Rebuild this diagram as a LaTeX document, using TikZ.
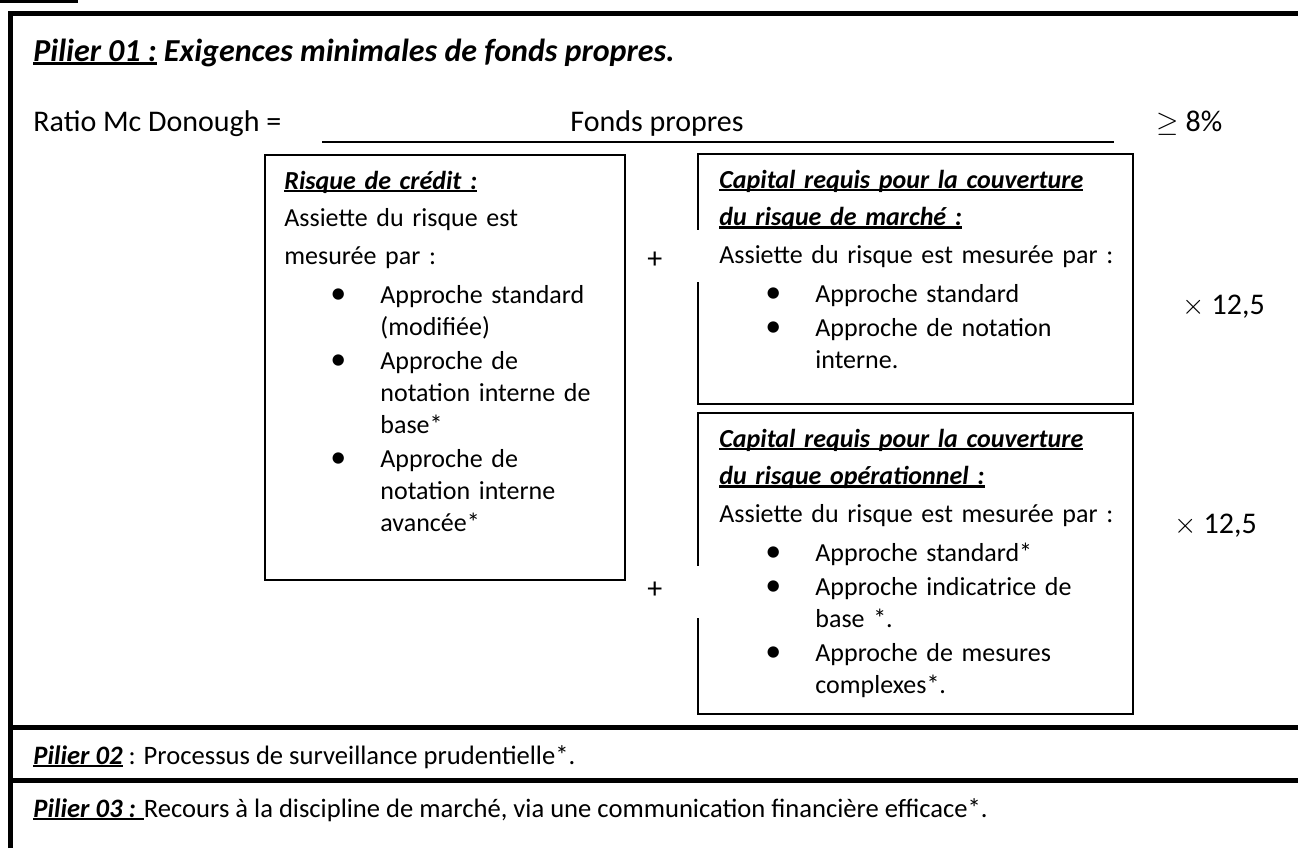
\documentclass[tikz,border=0pt]{standalone}
\usepackage{fontspec}
\setmainfont{Carlito}
\newcommand\souligne[1]{\leavevmode\setbox0=\hbox{#1}\rlap{\rule[-0.12em]{\wd0}{0.09em}}\box0\relax}
\newcommand\puce{\hspace*{27pt}\makebox[0pt]{\fontsize{16pt}{16pt}\selectfont\textbullet}\hspace*{21pt}}
\newcommand\suite{\hspace*{48pt}}

\begin{document}
\begin{tikzpicture}
[x=0.5pt,y=-0.5pt,
  frameDecorate/.style={line width=2.5pt},
  lineDecorate/.style={line width=0.8pt},
  boxDecorate/.style={draw,line width=0.85pt,anchor=north west,inner sep=0pt},
  gapDecorate/.style={fill=white,minimum width=4pt,minimum height=26pt,inner sep=0pt},
  textDecorate/.style={anchor=base west,inner sep=0pt,align=left,
    font=\fontsize{13pt}{16pt}\selectfont},
  pilierDecorate/.style={anchor=base west,inner sep=0pt,
    font=\fontsize{13.3pt}{16pt}\selectfont},
  ratioDecorate/.style={anchor=base west,inner sep=0pt,
    font=\fontsize{15pt}{16pt}\selectfont},
  titleDecorate/.style={anchor=base west,inner sep=0pt,
    font=\fontsize{16pt}{20pt}\selectfont\bfseries\itshape}]
\useasboundingbox (0,0) rectangle (1298,848);
%% frame and separators
\fill (0,0) rectangle (78,3);
\draw[frameDecorate] (10,848) -- (10,13.5) -- (1298,13.5);
\foreach \y in {727,780.5}
{
  \draw[frameDecorate] (10,\y) -- (1298,\y);
}
%% pilier 01
\node (titre) at (33,61) [titleDecorate] {\souligne{Pilier 01 :} Exigences minimales de fonds propres.};
\foreach \nodename/\x/\y/\texte in {
  ratio/33/131/{Ratio Mc Donough =}, fonds/570/131/{Fonds propres},
  seuil/1156/131/{$\geq$ 8\%}, plusA/647/268/{+}, plusB/647/598/{+},
  foisA/1182/314/{$\times$ 12,5}, foisB/1174/533/{$\times$ 12,5}}
{
  \node (\nodename) at (\x,\y) [ratioDecorate] {\texte};
}
\coordinate (fracL) at (322,142);
\coordinate (fracR) at (1114,142);
\draw[lineDecorate] (fracL) -- (fracR);
%% boxes
\node (credit) at (264,154) [boxDecorate,minimum width=180pt,minimum height=212.5pt] {};
\node (marche) at (697,153) [boxDecorate,minimum width=217.5pt,minimum height=125pt] {};
\node (operation) at (697,412) [boxDecorate,minimum width=217.5pt,minimum height=150.5pt] {};
\node (gapA) at (697,256) [gapDecorate] {};
\node (gapB) at (697,592) [gapDecorate] {};
\node (creditText) at (284,189) [textDecorate,text width=168pt] {%
  \souligne{\textbf{\textit{Risque de crédit :}}}\\[2.75pt]
  Assiette du risque est\\[2.75pt]
  mesurée par :\\[3.5pt]
  \puce Approche standard\\
  \suite(modifiée)\\[1pt]
  \puce Approche de\\
  \suite notation interne de\\
  \suite base*\\[1pt]
  \puce Approche de\\
  \suite notation interne\\
  \suite avancée*};
\node (marcheText) at (719,188) [textDecorate,text width=200pt] {%
  \souligne{\textbf{\textit{Capital requis pour la couverture}}}\\[2.75pt]
  \souligne{\textbf{\textit{du risque de marché :}}}\\[2.75pt]
  Assiette du risque est mesurée par :\\[3.5pt]
  \puce Approche standard\\[1pt]
  \puce Approche de notation\\
  \suite interne.};
\node (operationText) at (719,447) [textDecorate,text width=200pt] {%
  \souligne{\textbf{\textit{Capital requis pour la couverture}}}\\[2.75pt]
  \souligne{\textbf{\textit{du risque opérationnel :}}}\\[2.75pt]
  Assiette du risque est mesurée par :\\[3.5pt]
  \puce Approche standard*\\[1pt]
  \puce Approche indicatrice de\\
  \suite base *.\\[1pt]
  \puce Approche de mesures\\
  \suite complexes*.};
%% pilier 02 et 03
\node (pilierB) at (33,764) [pilierDecorate] {\souligne{\textbf{\textit{Pilier 02}}} : Processus de surveillance prudentielle*.};
\node (pilierC) at (33,817) [pilierDecorate] {\souligne{\textbf{\textit{Pilier 03 : }}}Recours à la discipline de marché, via une communication financière efficace*.};
\end{tikzpicture}
\end{document}
